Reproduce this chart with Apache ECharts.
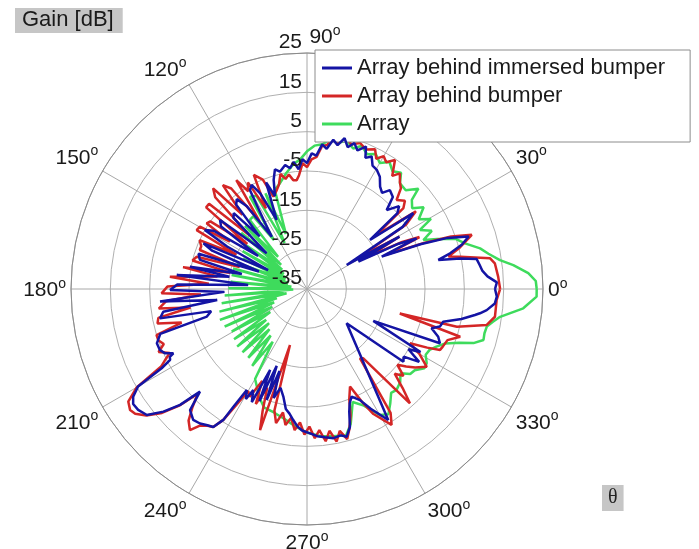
<!DOCTYPE html>
<html><head><meta charset="utf-8">
<script src="https://cdn.jsdelivr.net/npm/echarts@6/dist/echarts.min.js"></script>
<style>html,body{margin:0;padding:0;background:#fff}#c{width:699px;height:549px}</style>
</head><body><div id="c"></div><script>
const seriesNames = ['Array behind immersed bumper', 'Array behind bumper', 'Array'];
const radialTicks = { min: -35, max: 25, step: 10 };
const angleStep = 30;

// [theta (deg), gain (dB)]
const blueData = [[0,12.8],[2,13.3],[4,11],[6,9.8],[8,9.3],[10,8.8],[11.3,4.7],[12.5,-0.8],[14,2.5],[16,6],[18,8.2],[20,3],[21.5,-4],[23.4,-14.3],[24.8,-4.3],[26.3,-9],[28,-20.2],[29.5,-8],[31.2,-23.2],[33,-6],[35.5,-1.8],[37.9,-14.7],[40,-5],[42,-3.5],[44.7,-6.5],[47,-3],[50,-2.2],[52,-4],[54.5,-3],[57,-1],[59.6,0.1],[62,0.5],[64,2.5],[66,1.5],[67.5,4.2],[70,2.5],[72,4],[74,2.5],[76,4.5],[78,2.4],[80,3.5],[82,1],[84,2],[86,-1],[88,-0.5],[90,-3],[92,-2],[94,-4.5],[96,-2.5],[98,-4],[100,-3],[103,-4.4],[105,-3.5],[107,-6],[109,-10],[111,-6],[113.7,-15.8],[116,-8],[118,-5],[120,-6],[122,-14],[124,-19],[126,-9],[128,-6],[130,-7],[132,-17],[134,-8.2],[136,-9],[138.5,-21.3],[141.6,-6.8],[144,-8],[146,-20],[148,-7],[150,-5],[152,-12],[154,-24],[156.2,-6.2],[158,-9],[160,-22],[162,-6],[164.8,-6.8],[167,-18],[169.2,-4.7],[171,-15],[173.9,-1.7],[176,-20],[178,-2],[180.4,-0.2],[182,-14],[184.9,2.5],[187,-12],[189,2],[191.3,3.1],[193,-10],[195.4,-8.6],[197,4],[199.9,5.6],[202.5,5.5],[204.4,4.6],[205.7,2.7],[206.3,3.9],[207.4,4.2],[208.6,7.1],[210,14.6],[211.8,17],[213.5,18],[215.6,17.8],[218.2,16.8],[220.5,13],[222.4,8.7],[223.8,2.7],[226,7.8],[229,9.1],[231.5,8.7],[233.5,8],[235.8,7.4],[237.4,4.5],[238,0.3],[239.2,-5.1],[241,-3],[242,-5.9],[244,-3],[245.5,-12.4],[247,-4],[248.5,-14],[250,-5],[251.5,-13],[253,-6],[255,-9],[257.6,-7],[260,-4],[262,-3],[264,-1.5],[266,0],[268,1],[271.2,1.7],[274,2.5],[277,3],[280,3.5],[283,3.2],[285,3.9],[287.3,1.7],[289,-2],[290.5,-4],[292.5,-5.4],[295.5,-3.7],[298,-0.5],[301.8,4.2],[319.2,-21.7],[323,-4.3],[325,-5],[327,-1],[329.3,-5],[331,-2],[334.3,-16.3],[337.8,1.5],[340,0.5],[342.5,-1.8],[344.2,0.1],[346.5,0.6],[349,5],[351.2,8.2],[352,9.4],[353.3,11],[355.6,12.9],[357.7,13.3]];

const redData = [[0,14.1],[3.7,13.7],[7.8,13.2],[9.5,12.2],[11.9,4.8],[12.9,1.9],[15,5],[18.2,9.1],[20,4],[21.5,-3],[23.4,-13],[24.8,-3.5],[26.3,-8],[28,-18],[29.5,-8],[31.2,-20],[33,-5],[35.5,-1],[37.9,-13],[40,-3],[42,-1.5],[44.8,-2.9],[47,0],[49,1],[51.2,2.7],[53,1],[55.7,4.7],[58,3],[60,4],[62,2.5],[64,4.5],[67,3.5],[70,4.5],[73,3.5],[76,5],[78,3],[80,4],[82,2],[84,1.5],[85.8,-1.3],[88,-2],[90,-4],[92,-3],[94,-6],[95.4,-7.2],[97.2,-7.1],[99,-5.5],[101,-6.5],[103,-5],[105,-7.5],[107,-8.7],[110,-10],[112,-5],[115,-3],[117,-12],[119,-4],[121,-6],[123,-2],[125,-14],[127,-3],[129,-1],[131,-10],[133,0],[135,-2],[137,-15],[139,-2],[141,-2],[143,-16],[145,-5],[146.8,-4.5],[148.5,-12],[149.8,-3.5],[151.9,-3.2],[154,-15],[155.5,-5],[158,-6],[160,-6],[162,-17],[163.7,-5.8],[166,-5],[168,-15],[170,-3],[172,-12],[174.9,0],[177,-10],[179,0.5],[181.7,2],[183,-8],[185,1],[187.5,3],[189,-5],[191,3.5],[193,4],[195,-2],[197,5],[199,5],[201,4],[203,6],[205,3.5],[206.3,5],[208,7],[210,15],[212.2,18.7],[214.4,19.5],[216,19],[218.2,17],[220.5,13.5],[222.4,9],[223.8,3.5],[226,7],[228,10],[230.3,11.6],[232,9],[234,8],[235.8,7.4],[237.4,4.5],[238.5,0],[240,-5],[242,-4],[244,-9],[246,-3],[248,-8],[250,-2],[251.6,2.8],[253.1,-20.1],[255,-3],[257,0],[259,-3],[261,0],[263,-2],[265,1],[267,-1],[269,2],[271,0],[273,3],[275,1],[277,4],[279,1.5],[281,4.5],[283,2],[285,4.5],[287,2],[289,-1],[291,-5],[293.8,-7.9],[296,-3],[298,1],[301.9,5.7],[304,3],[307.4,-12.8],[309.1,-12.3],[312,4.1],[314,0],[316,-4],[318,-2],[320,-5],[322,-3],[324,-1],[327,1.3],[330,-2],[332.2,-5.4],[334,-1],[335.4,2.2],[337,2.5],[340,3],[342.7,5.8],[345.2,-10.6],[345.9,4.3],[348.7,11.6],[351.6,13.3],[356.7,13.3]];

const greenData = [[0,23.4],[2,23.2],[4.1,21.4],[6.6,17.8],[8.5,14.6],[11,12],[13.2,10.2],[16.1,6.8],[18.5,5],[21,0.5],[22.8,-2.9],[25,0],[27.6,-2.6],[29.5,1.2],[32,-1.5],[35,1.2],[37.5,-1.3],[40.4,0],[42,3.1],[45,0.5],[48.7,0.8],[51,3],[54,2],[57,3.5],[60,2],[63,3.5],[66,2.5],[69,4],[71.8,2.6],[75,4],[78,3],[81,3.5],[84,2],[87,1.5],[90,0],[93,-2],[96,-3],[100,-5],[104.5,-7.3],[108,-8.5],[111,-20],[113.5,-8.5],[116,-22],[118.5,-8],[121.7,-7.4],[124,-20],[126.5,-12],[129.6,-12.2],[132,-24],[134.5,-12.5],[137,-26],[139.5,-13],[142,-27],[144.5,-14],[147,-28],[149.5,-16],[152,-29],[154.5,-17],[157,-29],[159.5,-16],[162,-30],[164.5,-15.5],[167,-30],[169.5,-15.5],[172,-31],[174.5,-15.5],[177,-31],[179.5,-15],[182,-31.5],[184.5,-14],[187,-29],[189.5,-13],[192,-29.7],[194.5,-12],[197,-27],[199.5,-11.5],[202,-26],[204.5,-12],[207,-25],[209.5,-13],[212,-24],[214.5,-12.5],[217,-22],[219.5,-12],[222,-22],[224.5,-12],[227,-21],[229.5,-12],[232,-20],[234.5,-11],[237,-19],[240,-8.6],[243,-7],[246,-5],[250,-3],[255,-2.5],[260,-1.5],[265,0],[270,1.5],[275,2.5],[280,3],[285,3.5],[288,1],[292,-4],[296,-2],[300,2],[303,3],[306,1],[309,-1],[311.6,-0.7],[315,-1.5],[318,-3],[320.5,-1],[323,-0.7],[326,1],[328.2,0.8],[331,-0.5],[333.6,-0.2],[336,1],[338.5,2.8],[340.5,6],[342,9.5],[343.9,11.7],[346,11.5],[348.2,11.7],[350,13],[351.8,14.6],[354.9,20.2],[358.1,23.4]];

const colors = ['#1414a4', '#d42626', '#3edb5c'];

function toPolar(arr) {
  const d = arr.map(p => [p[1], p[0]]);
  d.push([arr[0][1], arr[0][0] + 360]);
  return d;
}

const FONT = 'Liberation Sans, Arial, sans-serif';
const chart = echarts.init(document.getElementById('c'), null, { renderer: 'canvas' });
const center = [307, 289];
const R = 236;

chart.setOption({
  animation: false,
  backgroundColor: '#fff',
  title: [
    { text: 'Gain [dB]', left: 15, top: 8, backgroundColor: '#c6c6c6', padding: [1, 9, 2, 7],
      textStyle: { fontSize: 22, fontWeight: 'normal', color: '#1a1a1a', fontFamily: FONT } },
    { text: 'θ', left: 602, top: 485, backgroundColor: '#c6c6c6', padding: [3, 6, 3, 6],
      textStyle: { fontSize: 20, fontWeight: 'normal', color: '#222', fontFamily: 'Liberation Serif, serif' } }
  ],
  legend: {
    orient: 'vertical', left: 315, top: 50, backgroundColor: '#fff', borderColor: '#8c8c8c', borderWidth: 1,
    padding: [7, 25, 7, 7], itemGap: 6, itemWidth: 30, itemHeight: 3, icon: 'rect',
    textStyle: { fontSize: 22, color: '#1a1a1a', fontFamily: FONT },
    data: seriesNames
  },
  polar: [
    { center: center, radius: R },
    { center: center, radius: R }
  ],
  angleAxis: [
    { polarIndex: 0, type: 'value', min: 0, max: 360, interval: angleStep, startAngle: 0, clockwise: false,
      axisLine: { show: true, lineStyle: { color: '#8a8a8a', width: 1 } },
      axisTick: { show: false },
      splitLine: { show: true, lineStyle: { color: '#a8a8a8', width: 1 } },
      axisLabel: {
        margin: 5,
        formatter: v => (v === 90 ? '{gap|}{n|90}{s|o}' : '{n|' + v + '}{s|o}'),
        rich: {
          gap: { width: 36, lineHeight: 24 },
          n: { fontSize: 21, color: '#1a1a1a', fontFamily: FONT, lineHeight: 24, verticalAlign: 'bottom' },
          s: { fontSize: 14, color: '#1a1a1a', fontFamily: FONT, lineHeight: 10, verticalAlign: 'top' }
        }
      }
    },
    { polarIndex: 1, type: 'value', min: 0, max: 360, startAngle: 90, clockwise: false, show: false }
  ],
  radiusAxis: [
    { polarIndex: 0, type: 'value', min: radialTicks.min, max: radialTicks.max, interval: radialTicks.step,
      axisLine: { show: false }, axisTick: { show: false }, axisLabel: { show: false },
      splitLine: { show: true, lineStyle: { color: '#b0b0b0', width: 1 } } },
    { polarIndex: 1, type: 'value', min: radialTicks.min, max: radialTicks.max, interval: radialTicks.step, z: 10,
      axisLine: { show: false }, axisTick: { show: false }, splitLine: { show: false },
      axisLabel: { margin: 5, verticalAlign: 'bottom', fontSize: 21, color: '#1a1a1a', fontFamily: FONT } }
  ],
  series: [
    { name: seriesNames[2], type: 'line', coordinateSystem: 'polar', polarIndex: 0, data: toPolar(greenData),
      showSymbol: false, symbol: 'none', color: colors[2], lineStyle: { color: colors[2], width: 2.5 }, z: 2 },
    { name: seriesNames[1], type: 'line', coordinateSystem: 'polar', polarIndex: 0, data: toPolar(redData),
      showSymbol: false, symbol: 'none', color: colors[1], lineStyle: { color: colors[1], width: 2.5 }, z: 3 },
    { name: seriesNames[0], type: 'line', coordinateSystem: 'polar', polarIndex: 0, data: toPolar(blueData),
      showSymbol: false, symbol: 'none', color: colors[0], lineStyle: { color: colors[0], width: 2.5 }, z: 4 }
  ]
});
</script></body></html>
